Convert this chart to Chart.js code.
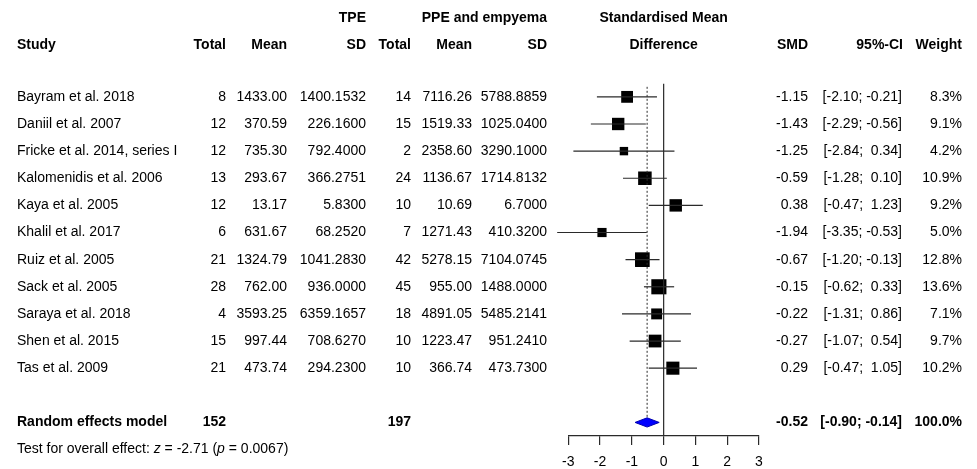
<!DOCTYPE html>
<html>
<head>
<meta charset="utf-8">
<script src="https://cdn.jsdelivr.net/npm/chart.js@4/dist/chart.umd.min.js"></script>
<style>
  html, body { margin: 0; padding: 0; background: #fff; }
  canvas { display: block; }
</style>
</head>
<body>
<canvas id="forest" width="977" height="469"></canvas>
<script>
// ---- Study data -------------------------------------------------------
const studies = [
  'Bayram et al. 2018', 'Daniil et al. 2007', 'Fricke et al. 2014, series I',
  'Kalomenidis et al. 2006', 'Kaya et al. 2005', 'Khalil et al. 2017',
  'Ruiz et al. 2005', 'Sack et al. 2005', 'Saraya et al. 2018',
  'Shen et al. 2015', 'Tas et al. 2009'
];
const tpeTotal = [8, 12, 12, 13, 12, 6, 21, 28, 4, 15, 21];
const tpeMean  = [1433.00, 370.59, 735.30, 293.67, 13.17, 631.67, 1324.79, 762.00, 3593.25, 997.44, 473.74];
const tpeSD    = [1400.1532, 226.1600, 792.4000, 366.2751, 5.8300, 68.2520, 1041.2830, 936.0000, 6359.1657, 708.6270, 294.2300];
const ppeTotal = [14, 15, 2, 24, 10, 7, 42, 45, 18, 10, 10];
const ppeMean  = [7116.26, 1519.33, 2358.60, 1136.67, 10.69, 1271.43, 5278.15, 955.00, 4891.05, 1223.47, 366.74];
const ppeSD    = [5788.8859, 1025.0400, 3290.1000, 1714.8132, 6.7000, 410.3200, 7104.0745, 1488.0000, 5485.2141, 951.2410, 473.7300];
const smd      = [-1.15, -1.43, -1.25, -0.59, 0.38, -1.94, -0.67, -0.15, -0.22, -0.27, 0.29];
const ciLow    = [-2.10, -2.29, -2.84, -1.28, -0.47, -3.35, -1.20, -0.62, -1.31, -1.07, -0.47];
const ciHigh   = [-0.21, -0.56, 0.34, 0.10, 1.23, -0.53, -0.13, 0.33, 0.86, 0.54, 1.05];
const weight   = [8.3, 9.1, 4.2, 10.9, 9.2, 5.0, 12.8, 13.6, 7.1, 9.7, 10.2];

// ---- Pooled estimate --------------------------------------------------
const pooledLabel = 'Random effects model';
const pooledTotals = [152, 197];
const pooledSMD = -0.52;
const pooledLow = -0.90;
const pooledHigh = -0.14;
const pooledWeight = 100.0;
const testZ = -2.71;
const testP = 0.0067;

const xTicks = [-3, -2, -1, 0, 1, 2, 3];

// ---- Layout helpers ---------------------------------------------------
const FONT = '"Liberation Sans", Arial, Helvetica, sans-serif';
const LINE = '#2a2a2a';
const pooledRow = studies.length + 1;   // one blank row after the studies
const testRow = pooledRow + 1;
const headRow1 = -2.9, headRow2 = -1.9;

const squareSide = w => 4.1 * Math.sqrt(w);           // area proportional to weight
const f2 = v => v.toFixed(2);
const fmtCI = (lo, hi) => '[' + f2(lo) + ';' + (hi < 0 ? ' ' : '  ') + f2(hi) + ']';

// ---- Datasets ---------------------------------------------------------
const datasets = [];

// line of no effect
datasets.push({
  data: [{ x: 0, y: -0.48 }, { x: 0, y: 12.5 }],
  showLine: true, borderColor: LINE, borderWidth: 1.2, pointRadius: 0, clip: false
});

// dotted reference at the pooled estimate
datasets.push({
  data: [{ x: pooledSMD, y: -0.37 }, { x: pooledSMD, y: pooledRow - 0.17 }],
  showLine: true, borderColor: LINE, borderWidth: 1, borderDash: [2, 2], pointRadius: 0, clip: false
});

// confidence interval whiskers
studies.forEach((s, i) => {
  datasets.push({
    data: [{ x: ciLow[i], y: i }, { x: ciHigh[i], y: i }],
    showLine: true, borderColor: LINE, borderWidth: 1.2, pointRadius: 0, clip: false
  });
});

// study squares
datasets.push({
  data: smd.map((v, i) => ({ x: v, y: i })),
  showLine: false,
  pointStyle: 'rect',
  pointRadius: ctx => squareSide(weight[ctx.dataIndex]) / Math.SQRT2,
  pointBackgroundColor: '#000',
  pointBorderWidth: 0,
  clip: false
});

// pooled diamond
const dh = 0.17;
datasets.push({
  data: [
    { x: pooledLow, y: pooledRow }, { x: pooledSMD, y: pooledRow - dh },
    { x: pooledHigh, y: pooledRow }, { x: pooledSMD, y: pooledRow + dh },
    { x: pooledLow, y: pooledRow }
  ],
  showLine: true, fill: 'shape', backgroundColor: '#0000ff',
  borderColor: '#0000b0', borderWidth: 1, pointRadius: 0, clip: false, tension: 0
});

// ---- Table text -------------------------------------------------------
const tablePlugin = {
  id: 'forestTable',
  afterDraw(chart) {
    const ctx = chart.ctx;
    const yScale = chart.scales.y;
    const Y = v => yScale.getPixelForValue(v);
    const xCenter = chart.scales.x.getPixelForValue(0);

    const put = (txt, x, row, align, bold, italic) => {
      ctx.font = (italic ? 'italic ' : '') + (bold ? 'bold ' : '') + '14px ' + FONT;
      ctx.textAlign = align;
      ctx.textBaseline = 'middle';
      ctx.fillStyle = '#000';
      ctx.fillText(txt, x, Y(row));
    };

    ctx.save();
    // header
    put('TPE', 366, headRow1, 'right', true);
    put('PPE and empyema', 547, headRow1, 'right', true);
    put('Standardised Mean', xCenter, headRow1, 'center', true);
    put('Study', 17, headRow2, 'left', true);
    put('Total', 226, headRow2, 'right', true);
    put('Mean', 287, headRow2, 'right', true);
    put('SD', 366, headRow2, 'right', true);
    put('Total', 411, headRow2, 'right', true);
    put('Mean', 472, headRow2, 'right', true);
    put('SD', 547, headRow2, 'right', true);
    put('Difference', xCenter, headRow2, 'center', true);
    put('SMD', 808, headRow2, 'right', true);
    put('95%-CI', 903, headRow2, 'right', true);
    put('Weight', 962, headRow2, 'right', true);

    // study rows
    studies.forEach((s, i) => {
      put(s, 17, i, 'left');
      put(String(tpeTotal[i]), 226, i, 'right');
      put(tpeMean[i].toFixed(2), 287, i, 'right');
      put(tpeSD[i].toFixed(4), 366, i, 'right');
      put(String(ppeTotal[i]), 411, i, 'right');
      put(ppeMean[i].toFixed(2), 472, i, 'right');
      put(ppeSD[i].toFixed(4), 547, i, 'right');
      put(f2(smd[i]), 808, i, 'right');
      put(fmtCI(ciLow[i], ciHigh[i]), 902, i, 'right');
      put(weight[i].toFixed(1) + '%', 962, i, 'right');
    });

    // pooled row
    put(pooledLabel, 17, pooledRow, 'left', true);
    put(String(pooledTotals[0]), 226, pooledRow, 'right', true);
    put(String(pooledTotals[1]), 411, pooledRow, 'right', true);
    put(f2(pooledSMD), 808, pooledRow, 'right', true);
    put(fmtCI(pooledLow, pooledHigh), 902, pooledRow, 'right', true);
    put(pooledWeight.toFixed(1) + '%', 962, pooledRow, 'right', true);

    // overall effect test, with italic statistic symbols
    const parts = [
      ['Test for overall effect: ', false], ['z', true], [' = ' + testZ.toFixed(2) + ' (', false],
      ['p', true], [' = ' + testP.toFixed(4) + ')', false]
    ];
    let x = 17;
    parts.forEach(([t, it]) => {
      ctx.font = (it ? 'italic ' : '') + '14px ' + FONT;
      put(t, x, testRow, 'left', false, it);
      x += ctx.measureText(t).width;
    });
    ctx.restore();
  }
};

// ---- Chart ------------------------------------------------------------
new Chart(document.getElementById('forest'), {
  type: 'scatter',
  data: { datasets },
  plugins: [tablePlugin],
  options: {
    responsive: false,
    animation: false,
    events: [],
    devicePixelRatio: 1,
    layout: { autoPadding: false, padding: { left: 568.3, right: 218, top: 0, bottom: 0 } },
    plugins: { legend: { display: false }, tooltip: { enabled: false } },
    scales: {
      x: {
        type: 'linear', position: 'bottom', min: -3, max: 3,
        afterBuildTicks: s => { s.ticks = xTicks.map(v => ({ value: v })); },
        afterFit: s => { s.height = 33; },
        ticks: { font: { family: FONT, size: 14 }, color: '#000', padding: 9, maxRotation: 0 },
        grid: { drawOnChartArea: false, drawTicks: true, tickLength: 9, color: LINE, lineWidth: 1.2 },
        border: { display: true, color: LINE, width: 1.2 }
      },
      y: {
        type: 'linear', display: false, reverse: true, min: -3.57, max: 12.5
      }
    }
  }
});
</script>
</body>
</html>
